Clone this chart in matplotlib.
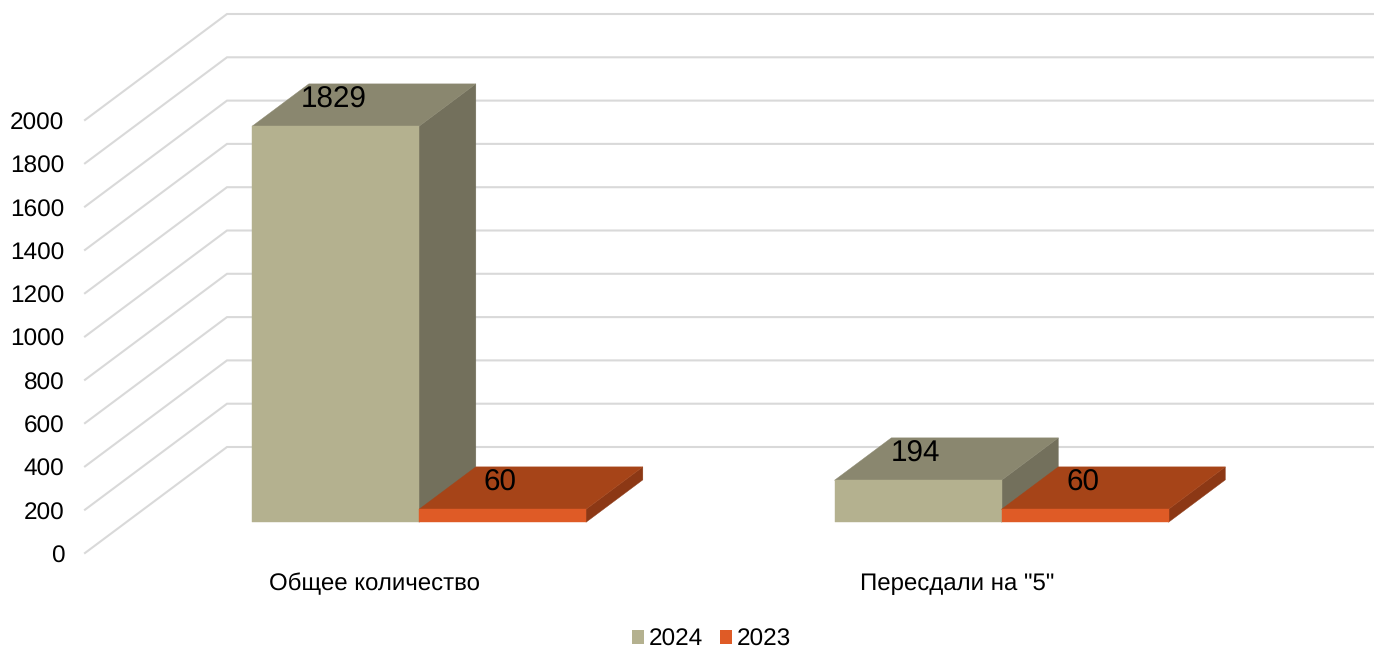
import matplotlib
matplotlib.use("Agg")
import matplotlib.pyplot as plt
from matplotlib.patches import Patch
from matplotlib.transforms import ScaledTranslation

plt.rcParams['font.family'] = ['Liberation Sans', 'DejaVu Sans']
plt.rcParams['text.hinting'] = 'no_hinting'

categories = ['Общее количество', 'Пересдали на "5"']
series_names = ['2024', '2023']
values_2024 = [1829, 194]
values_2023 = [60, 60]
y_ticks = [0, 200, 400, 600, 800, 1000, 1200, 1400, 1600, 1800, 2000]

W, H = 1374, 649
fig = plt.figure(figsize=(W / 100, H / 100), dpi=100, facecolor='white')
L, R, B, T = 85, 1250, 553, 120
ax = fig.add_axes([L / W, 1 - B / H, (R - L) / W, (B - T) / H])
ax.set_xlim(-0.5, 1.5)
ax.set_ylim(0, 2000)
for s in ax.spines.values():
    s.set_visible(False)

# oblique projection: depth 1 = 142 px right, 106 px up
DX = 142 / ((R - L) / 2)
DY = 106 / ((B - T) / 2000)


def proj(x, y, z):
    return x + z * DX, y + z * DY


GRID = '#D9D9D9'
for t in y_ticks:
    p0 = proj(-0.5, t, 0)
    p1 = proj(-0.5, t, 1)
    p2 = proj(1.5, t, 1)
    ax.plot([p0[0], p1[0], p2[0]], [p0[1], p1[1], p2[1]], color=GRID, lw=1.5,
            clip_on=False, zorder=1, solid_joinstyle='miter')

BAR_W = 167 / ((R - L) / 2)
BAR_SHIFT = 1.6 / ((R - L) / 2)
Z0, Z1 = 0.29, 0.69
COLORS = {
    '2024': ('#B4B18F', '#8A876F', '#73705C'),
    '2023': ('#DF5B26', '#A64418', '#8C3815'),
}


def poly(points, color, z):
    xs, ys = zip(*[proj(*p) for p in points])
    ax.fill(xs, ys, facecolor=color, edgecolor=color, lw=0.3, clip_on=False, zorder=z)


for i, cat in enumerate(categories):
    for j, (name, vals) in enumerate(zip(series_names, [values_2024, values_2023])):
        v = vals[i]
        x0 = i - BAR_W + j * BAR_W + BAR_SHIFT
        x1 = x0 + BAR_W
        front, top, side = COLORS[name]
        z = 3 + j
        poly([(x1, 0, Z0), (x1, 0, Z1), (x1, v, Z1), (x1, v, Z0)], side, z)
        poly([(x0, v, Z0), (x1, v, Z0), (x1, v, Z1), (x0, v, Z1)], top, z)
        poly([(x0, 0, Z0), (x1, 0, Z0), (x1, v, Z0), (x0, v, Z0)], front, z)
        lx, ly = proj((x0 + x1) / 2, v, Z0)
        ax.annotate(str(v), (lx, ly), xytext=(-1.5, 19), textcoords='offset points',
                    ha='center', va='center', fontsize=21.3, color='black', zorder=10,
                    annotation_clip=False)

ax.set_xticks(range(len(categories)), categories)
ax.set_yticks(y_ticks, [str(t) for t in y_ticks])
ax.tick_params(axis='x', length=0, pad=13.5, labelsize=17.3, labelcolor='black')
ax.tick_params(axis='y', length=0, pad=15, labelsize=17.6, labelcolor='black')
ax.patch.set_visible(False)

for lab in ax.get_xticklabels():
    lab.set_transform(lab.get_transform() + ScaledTranslation(-2 / 100, -1 / 100, fig.dpi_scale_trans))
for lab in ax.get_yticklabels():
    lab.set_transform(lab.get_transform() + ScaledTranslation(0, -1 / 100, fig.dpi_scale_trans))

handles = [Patch(facecolor=COLORS[n][0], label=n) for n in series_names]
fig.legend(handles=handles, loc='center', bbox_to_anchor=(711.5 / W, 1 - 639.5 / H), ncol=2,
           frameon=False, fontsize=17.6, handlelength=0.5, handleheight=0.5,
           handletextpad=0.2, columnspacing=0.7, borderpad=0)

fig.savefig('out.png', dpi=100, facecolor='white')
